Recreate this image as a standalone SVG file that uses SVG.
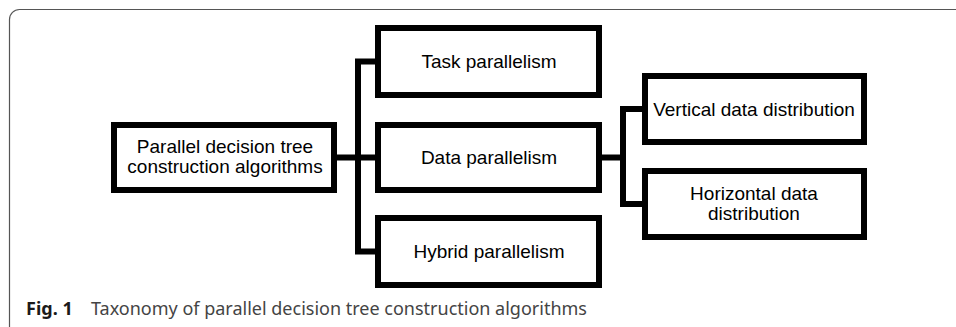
<svg xmlns="http://www.w3.org/2000/svg" width="956" height="327" viewBox="0 0 956 327">
<style>
.box{fill:#fff;stroke:#000;stroke-width:6;stroke-linejoin:miter}
.lbl{font-family:"Liberation Sans",Arial,sans-serif;font-size:19px;fill:#000;text-anchor:middle}
.conn{fill:none;stroke:#000;stroke-width:6;stroke-linejoin:miter;stroke-linecap:butt}
.cap{font-family:"Noto Sans","Open Sans",sans-serif;font-size:18px}
</style>
<rect width="956" height="327" fill="#fff"/>
<path d="M9.5,327 V19.5 A10,10 0 0 1 19.5,9.5 H956" fill="none" stroke="#555" stroke-width="1.2"/>
<g id="connectors">
<path class="conn" d="M337,157.5 H375"/>
<path class="conn" d="M378,61.5 H358 V251.5 H378"/>
<path class="conn" d="M602,157.5 H623"/>
<path class="conn" d="M645,109 H623 V204 H645"/>
</g>
<g id="root">
<rect class="box" x="114" y="125" width="220" height="65"/>
<text class="lbl" x="225" y="153">Parallel decision tree</text>
<text class="lbl" x="225" y="173">construction algorithms</text>
</g>
<g id="task">
<rect class="box" x="378" y="28" width="221" height="67"/>
<text class="lbl" x="489" y="68">Task parallelism</text>
</g>
<g id="data">
<rect class="box" x="378" y="125" width="221" height="65"/>
<text class="lbl" x="489" y="164">Data parallelism</text>
</g>
<g id="hybrid">
<rect class="box" x="378" y="218" width="221" height="67"/>
<text class="lbl" x="489" y="258">Hybrid parallelism</text>
</g>
<g id="vertical">
<rect class="box" x="645" y="76" width="219" height="66"/>
<text class="lbl" x="754" y="115.5">Vertical data distribution</text>
</g>
<g id="horizontal">
<rect class="box" x="645" y="171" width="219" height="66"/>
<text class="lbl" x="754" y="200">Horizontal data</text>
<text class="lbl" x="754" y="220">distribution</text>
</g>
<g id="caption">
<text class="cap" x="26" y="315"><tspan font-weight="bold" fill="#1a1a1a">Fig. 1</tspan><tspan x="91" fill="#444">Taxonomy of parallel decision tree construction algorithms</tspan></text>
</g>
</svg>
